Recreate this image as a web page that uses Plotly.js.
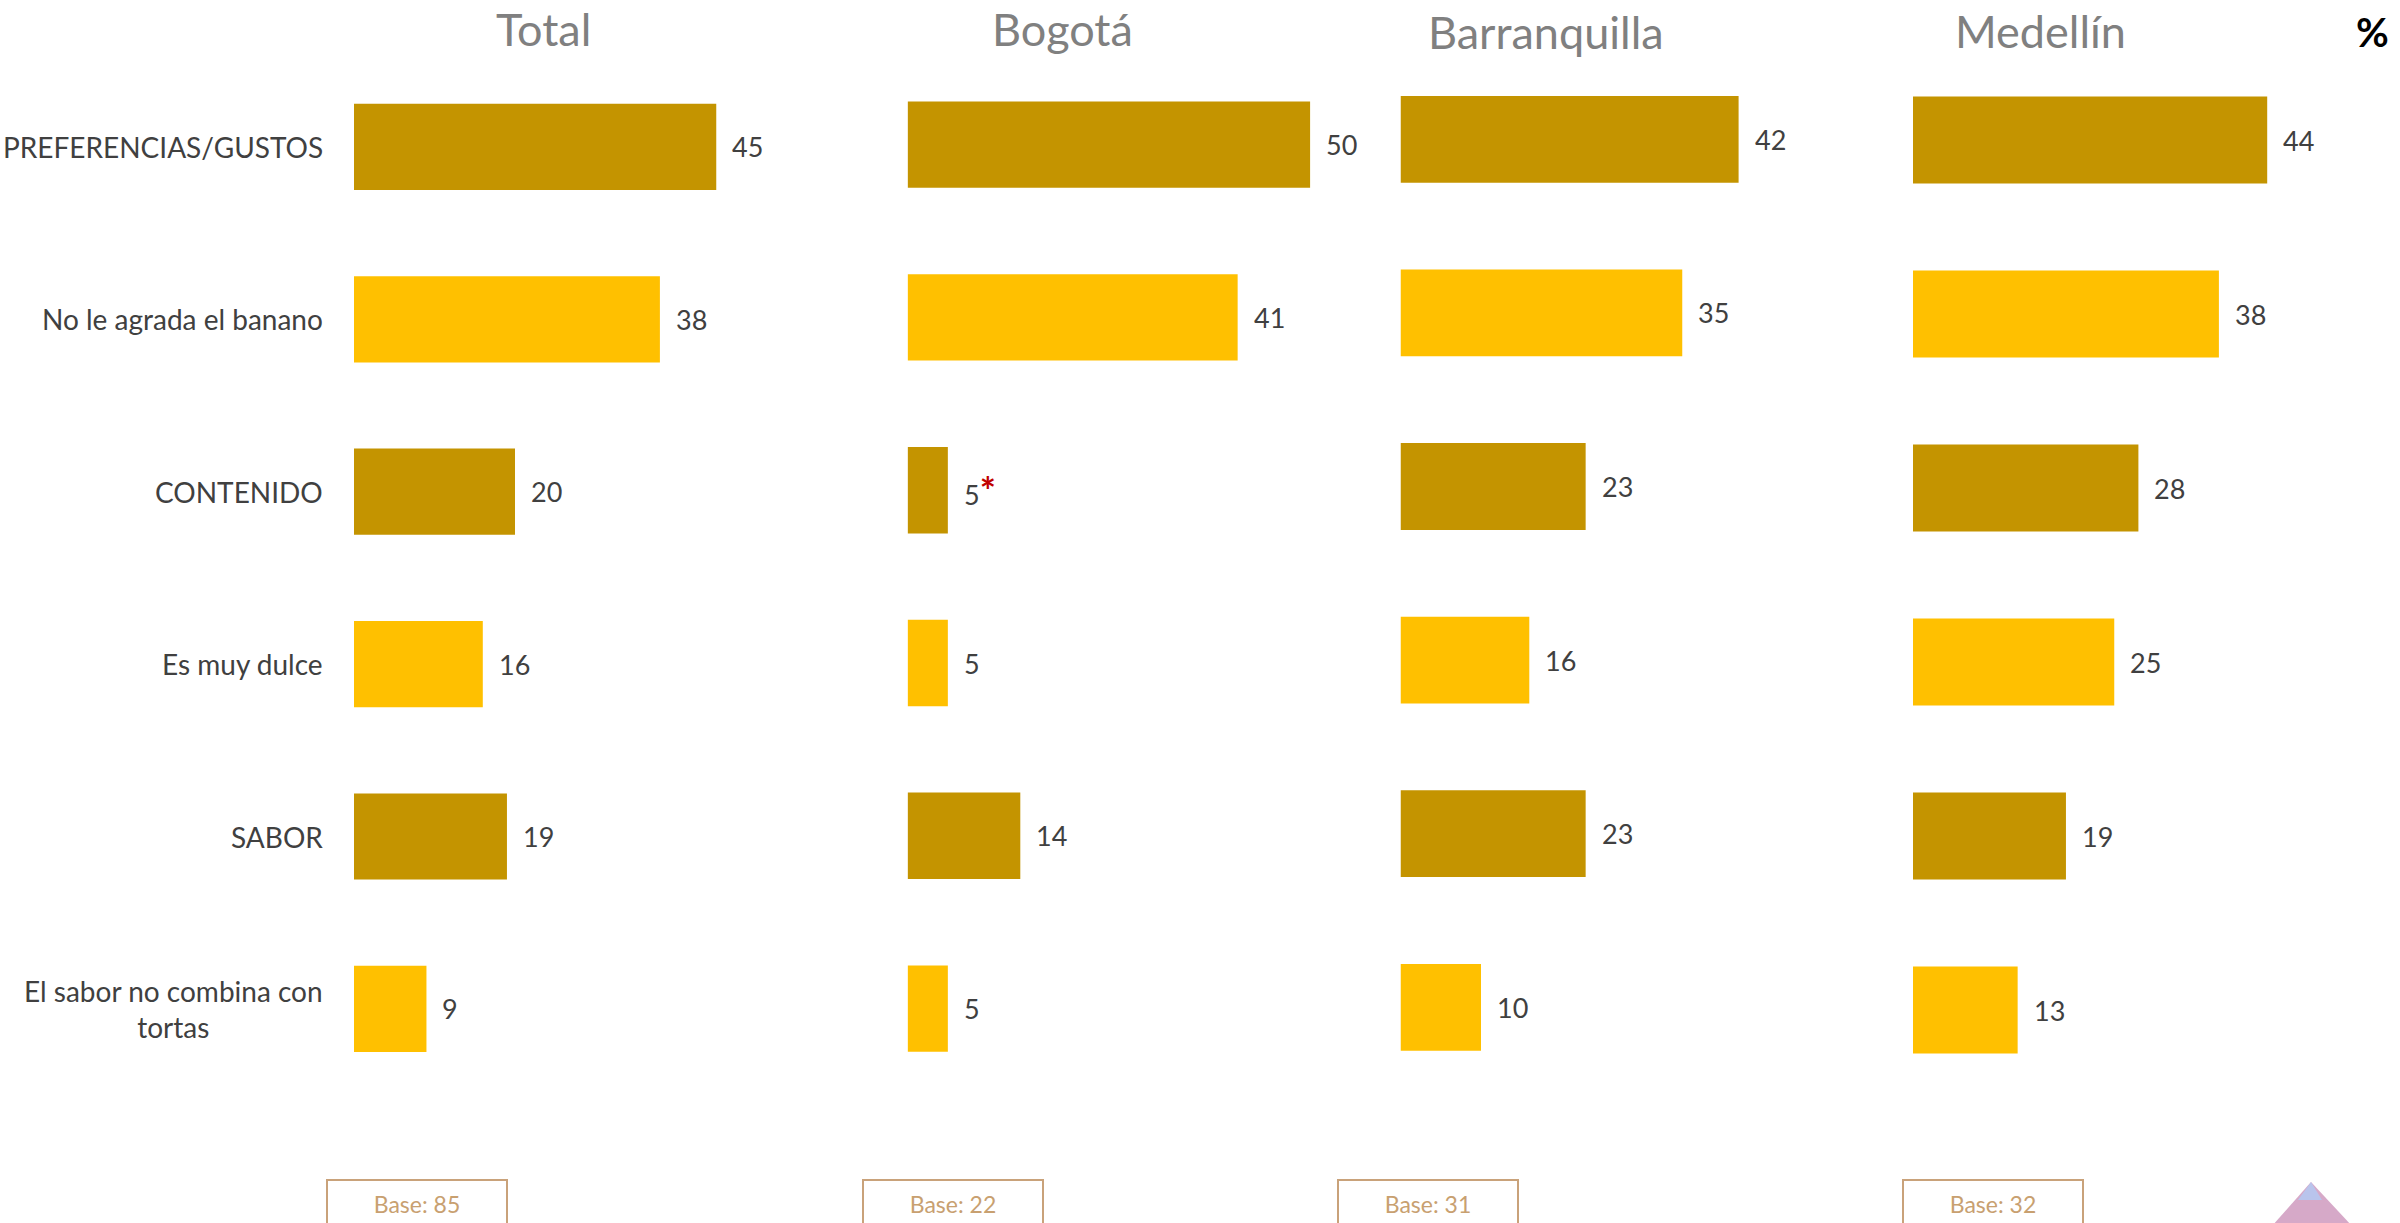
<!DOCTYPE html>
<html>
<head>
<meta charset="utf-8">
<script src="https://cdn.plot.ly/plotly-3.0.1.min.js"></script>
<style>html,body{margin:0;padding:0;background:#fff;}#chart{width:2400px;height:1223px;}</style>
</head>
<body>
<div id="chart"></div>
<script>
// ---- data ----
const categories = ['PREFERENCIAS/GUSTOS', 'No le agrada el banano', 'CONTENIDO', 'Es muy dulce', 'SABOR', 'El sabor no combina con<br>tortas'];
const panelTitles = ['Total', 'Bogotá', 'Barranquilla', 'Medellín'];
const totalValues = [45, 38, 20, 16, 19, 9];
const bogotaValues = [50, 41, 5, 5, 14, 5];
const barranquillaValues = [42, 35, 23, 16, 23, 10];
const medellinValues = [44, 38, 28, 25, 19, 13];
const bogotaFlags = ['', '', '*', '', '', ''];
const baseLabels = ['Base: 85', 'Base: 22', 'Base: 31', 'Base: 32'];
const unitLabel = '%';

// ---- styling / layout ----
const W = 2400, H = 1223;
const DARK = '#C49400', LIGHT = '#FFC000';
const barColors = categories.map((c, i) => i % 2 === 0 ? DARK : LIGHT);
const FONT = 'Lato, "Open Sans", sans-serif';
const series = [totalValues, bogotaValues, barranquillaValues, medellinValues];
const flags = [null, bogotaFlags, null, null];
const xStartPx = [354, 907.6, 1400.5, 1913];
const pxPerUnit = 8.05, xMax = 56;
const yTopPx = [60.7, 58.2, 52.5, 53];
const yBotPx = [1095.1, 1095, 1094.1, 1097];
const titleXPx = [543, 1062, 1546, 2040];
const titleYPx = [29, 29, 32, 31];
const baseXPx = [417, 953, 1428, 1993];

const traces = [];
const layout = {
  width: W, height: H,
  margin: {l: 0, r: 0, t: 0, b: 0},
  paper_bgcolor: '#ffffff', plot_bgcolor: '#ffffff',
  showlegend: false, bargap: 0.5,
  font: {family: FONT, color: '#404040'},
  annotations: [], shapes: []
};

series.forEach((vals, p) => {
  const ax = p === 0 ? '' : String(p + 1);
  traces.push({
    type: 'bar', orientation: 'h',
    x: vals, y: categories,
    xaxis: 'x' + ax, yaxis: 'y' + ax,
    marker: {color: barColors, line: {width: 0}},
    hoverinfo: 'skip'
  });
  const x0 = xStartPx[p] / W, x1 = (xStartPx[p] + pxPerUnit * xMax) / W;
  layout['xaxis' + ax] = {domain: [x0, x1], range: [0, xMax], visible: false, fixedrange: true, anchor: 'y' + ax};
  layout['yaxis' + ax] = {domain: [1 - yBotPx[p] / H, 1 - yTopPx[p] / H], type: 'category',
    range: [categories.length - 0.5, -0.5], visible: false, fixedrange: true, anchor: 'x' + ax};
  // value labels
  vals.forEach((v, i) => {
    let txt = String(v);
    if (flags[p] && flags[p][i]) txt += '<span style="color:#C00000;font-size:38px"><b>' + flags[p][i] + '</b></span>';
    layout.annotations.push({
      xref: 'x' + ax, yref: 'y' + ax, x: v, y: categories[i],
      xanchor: 'left', yanchor: 'middle', xshift: 14, showarrow: false,
      text: txt, font: {size: 27, color: '#404040', family: FONT}
    });
  });
  // panel title
  layout.annotations.push({
    xref: 'paper', yref: 'paper', x: titleXPx[p] / W, y: 1 - titleYPx[p] / H,
    xanchor: 'center', yanchor: 'middle', showarrow: false,
    text: panelTitles[p], font: {size: 45, color: '#808080', family: FONT}
  });
  // base box
  layout.annotations.push({
    xref: 'paper', yref: 'paper', x: baseXPx[p] / W, y: 1 - 1179 / H,
    xanchor: 'center', yanchor: 'top', showarrow: false,
    text: baseLabels[p], font: {size: 23, color: '#C8A070', family: FONT},
    bordercolor: '#C9A27A', borderwidth: 2, borderpad: 0, width: 178, height: 46, valign: 'middle'
  });
});

// category labels
categories.forEach((c) => {
  layout.annotations.push({
    xref: 'x', yref: 'y', x: 0, y: c, xanchor: 'right', yanchor: 'middle', xshift: -29,
    align: 'center', showarrow: false, text: c,
    font: {size: 28, color: '#404040', family: FONT}
  });
});

// unit label
layout.annotations.push({
  xref: 'paper', yref: 'paper', x: 2372 / W, y: 1 - 32 / H, xanchor: 'center', yanchor: 'middle',
  showarrow: false, text: '<b>' + unitLabel + '</b>', font: {size: 40, color: '#000000', family: FONT}
});

// small decorative logo (pyramid) at bottom right
const px = (x) => x / W, py = (y) => 1 - y / H;
layout.shapes.push({
  type: 'path', xref: 'paper', yref: 'paper', layer: 'above',
  path: `M ${px(2311)} ${py(1182)} L ${px(2272)} ${py(1226)} L ${px(2352)} ${py(1226)} Z`,
  fillcolor: '#D6A9C8', line: {width: 0}
});
layout.shapes.push({
  type: 'path', xref: 'paper', yref: 'paper', layer: 'above',
  path: `M ${px(2311)} ${py(1182)} L ${px(2298)} ${py(1200)} L ${px(2322)} ${py(1200)} Z`,
  fillcolor: '#B9C4EC', line: {width: 0}
});

Plotly.newPlot('chart', traces, layout, {staticPlot: true, displayModeBar: false});
</script>
</body>
</html>
